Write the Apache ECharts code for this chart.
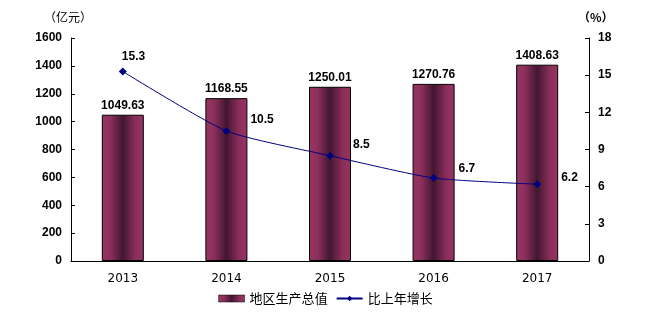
<!DOCTYPE html>
<html><head><meta charset="utf-8">
<script src="https://cdn.jsdelivr.net/npm/echarts@6/dist/echarts.min.js"></script>
<style>html,body{margin:0;padding:0;background:#fff}#c{width:651px;height:324px}</style>
</head><body><div id="c"></div>
<script>
const categories = ['2013', '2014', '2015', '2016', '2017'];
const gdpValues = [1049.63, 1168.55, 1250.01, 1270.76, 1408.63];
const growthValues = [15.3, 10.5, 8.5, 6.7, 6.2];
const leftTicks = {min: 0, max: 1600, interval: 200};
const rightTicks = {min: 0, max: 18, interval: 3};
const growthLabelOffsets = [[-5, -15], [20, -11], [19, -11], [21, -9], [20, -7]];

const chart = echarts.init(document.getElementById('c'));
const font = '"Liberation Sans", Arial, sans-serif';
const barGrad = new echarts.graphic.LinearGradient(0, 0, 1, 0, [
  {offset: 0, color: '#993563'},
  {offset: 0.2, color: '#8d2f5c'},
  {offset: 0.5, color: '#421730'},
  {offset: 0.8, color: '#8a2e5a'},
  {offset: 1, color: '#973463'}
]);
chart.setOption({
  animation: false,
  textStyle: {fontFamily: font},
  grid: {left: 71, right: 62, top: 38, bottom: 63},
  graphic: [
    {type: 'text', left: 44, top: 11, style: {text: '（亿元）', font: '12px "Noto Sans CJK SC", sans-serif', fill: '#000'}},
    {type: 'text', left: 578, top: 11, style: {text: '（%）', font: 'bold 12px "Noto Sans CJK SC", sans-serif', fill: '#000'}}
  ],
  legend: {
    bottom: 14, left: 'center', itemWidth: 26, itemHeight: 7, itemGap: 8,
    textStyle: {fontSize: 13, fontFamily: '"Noto Sans CJK SC", sans-serif', color: '#000'},
    data: [
      {name: '地区生产总值', icon: 'rect', itemStyle: {color: barGrad, borderColor: '#000', borderWidth: 0.5}},
      {name: '比上年增长'}
    ]
  },
  xAxis: {
    type: 'category', data: categories,
    axisLine: {lineStyle: {color: '#000', width: 1}},
    axisTick: {inside: true, length: 4, lineStyle: {color: '#000'}},
    axisLabel: {color: '#000', fontSize: 12, margin: 12, fontFamily: '"DejaVu Sans", sans-serif'}
  },
  yAxis: [
    {type: 'value', min: leftTicks.min, max: leftTicks.max, interval: leftTicks.interval,
     axisLine: {show: true, lineStyle: {color: '#000'}},
     axisTick: {show: true, inside: true, length: 4, lineStyle: {color: '#000'}},
     splitLine: {show: false},
     axisLabel: {color: '#000', fontSize: 12, fontWeight: 'bold', margin: 9, formatter: v => String(v)}},
    {type: 'value', min: rightTicks.min, max: rightTicks.max, interval: rightTicks.interval,
     position: 'right',
     axisLine: {show: true, lineStyle: {color: '#000'}},
     axisTick: {show: true, inside: true, length: 4, lineStyle: {color: '#000'}},
     splitLine: {show: false},
     axisLabel: {color: '#000', fontSize: 12, fontWeight: 'bold', margin: 9, formatter: v => String(v)}}
  ],
  series: [
    {name: '地区生产总值', type: 'bar', data: gdpValues, barWidth: 42,
     itemStyle: {color: barGrad, borderColor: '#000', borderWidth: 1},
     label: {show: true, position: 'top', distance: 3, color: '#000', fontSize: 12, fontWeight: 'bold',
       formatter: p => p.value.toFixed(2)}},
    {name: '比上年增长', type: 'line', yAxisIndex: 1, smooth: 0.2,
     data: growthValues.map((v, i) => ({value: v, label: {offset: growthLabelOffsets[i]}})),
     symbol: 'diamond', symbolSize: 8,
     lineStyle: {color: '#000080', width: 1},
     itemStyle: {color: '#000080'},
     label: {show: true, position: 'right', distance: 0, color: '#000', fontSize: 12, fontWeight: 'bold',
       formatter: p => p.value.toFixed(1)}}
  ]
});
</script></body></html>
